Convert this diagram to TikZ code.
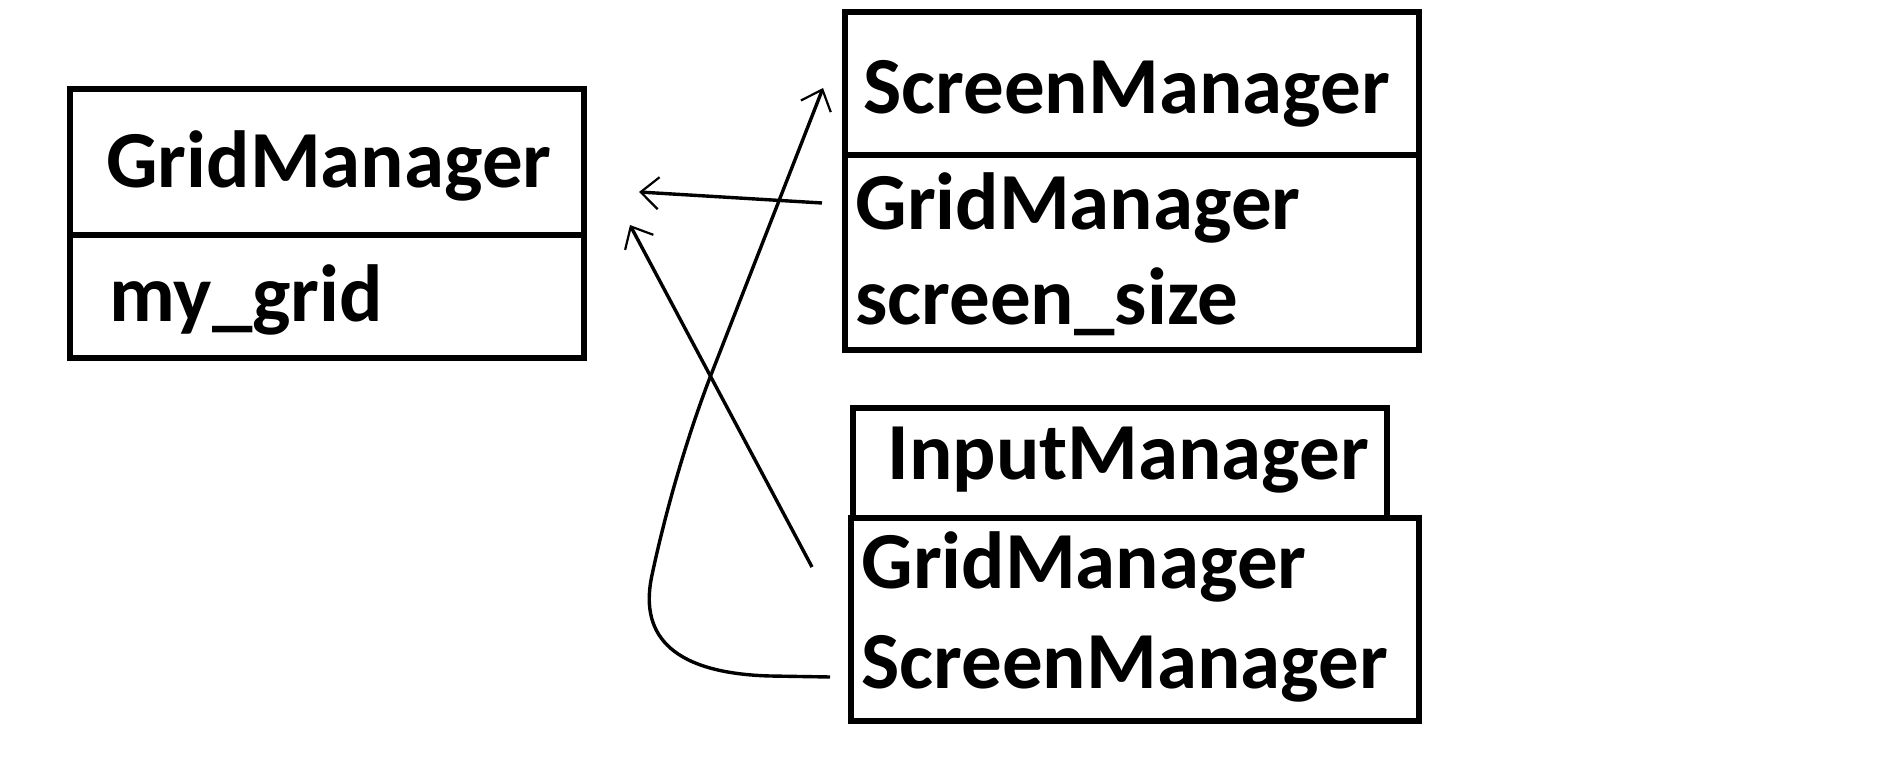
\documentclass[tikz,border=0pt]{standalone}
\usepackage{fontspec}
\setmainfont{Carlito}
\usetikzlibrary{arrows.meta}
\begin{document}
\begin{tikzpicture}[x=0.5pt, y=-0.5pt]

	\tikzstyle{caja}=[rectangle, draw, line width=2.6pt, inner sep=0pt]
	\tikzstyle{txt}=[anchor=base west, inner sep=0pt, font=\fontsize{40.5pt}{48pt}\selectfont\bfseries]
	\tikzstyle{dep}=[-{Straight Barb[length=9pt, width=16pt, line width=1.1pt]}, line width=1.7pt]

	\useasboundingbox (0, 0) rectangle (1893, 758);

	\coordinate (gm_h) at (327, 162); % GRIDMANAGER
	\coordinate (gm_b) at (327, 296.5); % GRIDMANAGER
	\coordinate (sm_h) at (1132, 83.5); % SCREENMANAGER
	\coordinate (sm_b) at (1132, 252.5); % SCREENMANAGER
	\coordinate (im_h) at (1120, 463); % INPUTMANAGER
	\coordinate (im_b) at (1135, 619.5); % INPUTMANAGER

	\node[caja, minimum width=257pt, minimum height=73pt] (gm_h) at (gm_h) {};
	\node[caja, minimum width=257pt, minimum height=61.5pt] (gm_b) at (gm_b) {};
	\node[caja, minimum width=287pt, minimum height=71.5pt] (sm_h) at (sm_h) {};
	\node[caja, minimum width=287pt, minimum height=97.5pt] (sm_b) at (sm_b) {};
	\node[caja, minimum width=267pt, minimum height=55pt] (im_h) at (im_h) {};
	\node[caja, minimum width=284pt, minimum height=101.5pt] (im_b) at (im_b) {};

	\node[txt] (t_gm) at (106, 188) {GridManager}; % GRIDMANAGER
	\node[txt] (t_gm_1) at (109, 322) {my\_grid}; % GRIDMANAGER
	\node[txt] (t_sm) at (863, 114) {ScreenManager}; % SCREENMANAGER
	\node[txt] (t_sm_1) at (855, 230) {GridManager}; % SCREENMANAGER
	\node[txt] (t_sm_2) at (855, 325) {screen\_size}; % SCREENMANAGER
	\node[txt] (t_im) at (887, 480) {InputManager}; % INPUTMANAGER
	\node[txt] (t_im_1) at (861, 588) {GridManager}; % INPUTMANAGER
	\node[txt] (t_im_2) at (861, 688) {ScreenManager}; % INPUTMANAGER

	%%%%%%%%%%%%%%%%%%%%%%%%%%%%%%%%%
	%%%%%%%%%% DEPENDENCIAS %%%%%%%%%%
	\coordinate (d_1_s) at (822, 203);
	\coordinate (d_1_e) at (639, 192);
	\coordinate (d_2_s) at (812, 567);
	\coordinate (d_2_e) at (630, 225);
	\coordinate (d_3_s) at (830, 677);
	\coordinate (d_3_e) at (823, 88);

	\draw[dep] (d_1_s) -- (d_1_e);
	\draw[dep] (d_2_s) -- (d_2_e);
	\draw[dep] (d_3_s) -- (770, 676) .. controls (665, 673) and (640, 630) .. (652, 575)
		.. controls (668, 500) and (690, 430) .. (709, 380) -- (d_3_e);
	%%%%%%%%%%%%%%%%%%%%%%%%%%%%%%%%%
\end{tikzpicture}
\end{document}
